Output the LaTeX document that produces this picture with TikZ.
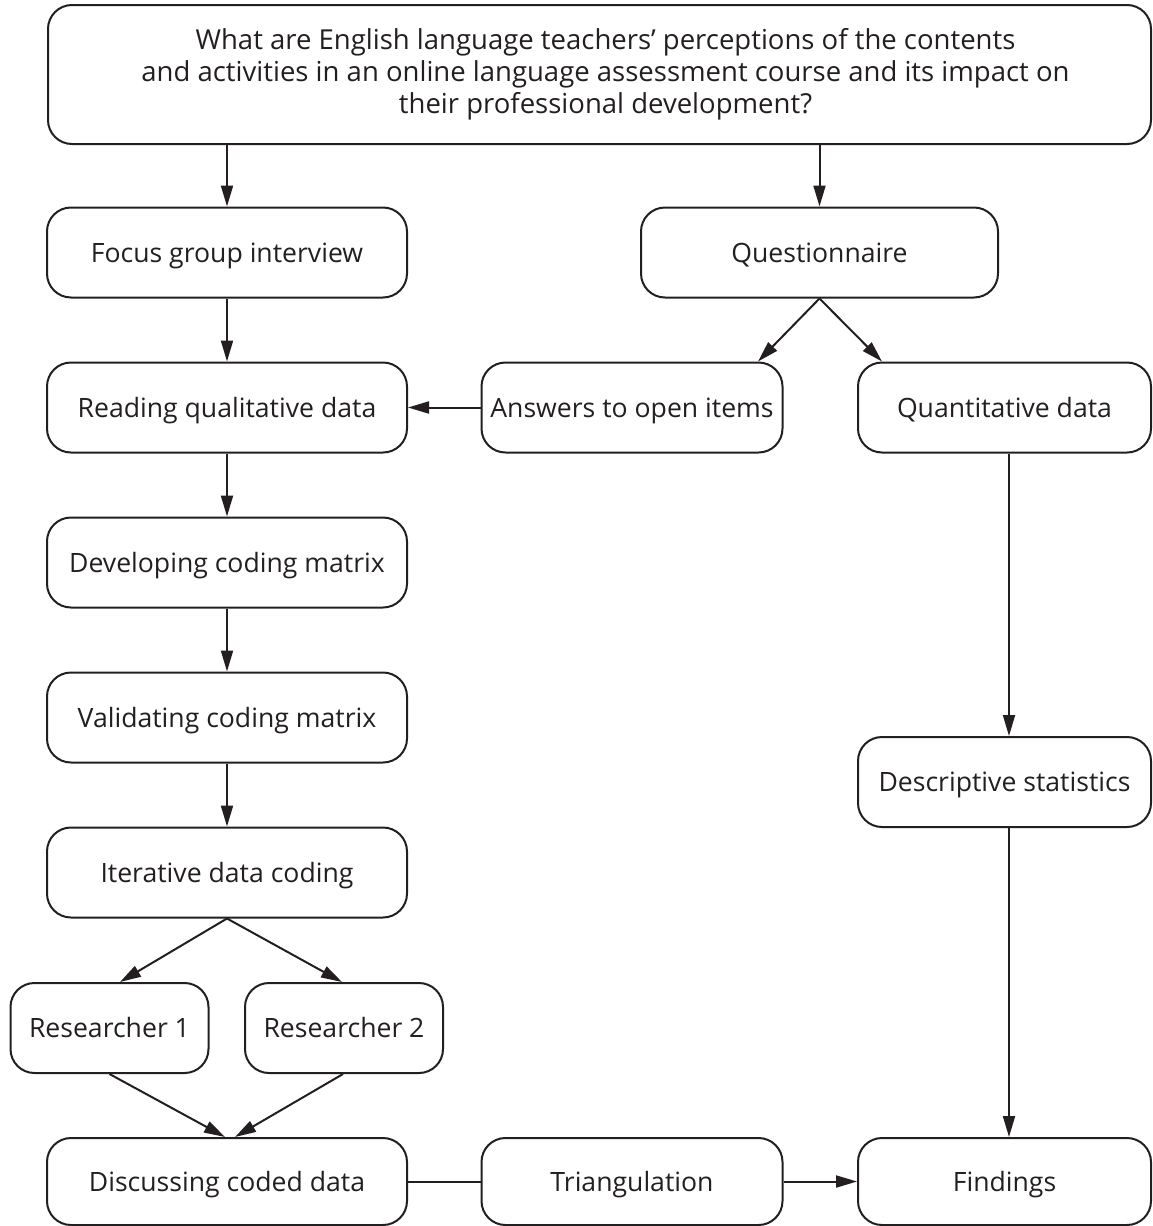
\documentclass[tikz,border=0pt]{standalone}
\usepackage{fontspec}
\setmainfont{Open Sans}
\usetikzlibrary{arrows.meta}
\definecolor{ink}{HTML}{231F20}
\begin{document}
\begin{tikzpicture}[x={(1pt,0)},y={(0,-1pt)},
  basebox/.style={draw=ink,line width=2pt,rounded corners=24pt,inner sep=0pt,
    minimum height=90pt,align=center,text=ink},
  box/.style={basebox,font=\fontsize{26.6}{32}\selectfont,text height=19pt,text depth=0pt},
  conn/.style={line width=2pt,draw=ink},
  arr/.style={conn,-{Triangle[length=21pt,width=12pt]}}]
\useasboundingbox (0,0) rectangle (1153,1226);
\node[basebox,font=\fontsize{27.5}{32}\selectfont,minimum width=1103pt,minimum height=139pt] (q) at (599.5,74.5)
 {\hspace*{12pt}What are English language teachers’ perceptions of the contents\\
  \hspace*{12pt}and activities in an online language assessment course and its impact on\\
  \hspace*{12pt}their professional development?};
\node[box,minimum width=360pt] (focus) at (227,252.5) {Focus group interview};
\node[box,minimum width=357pt] (quest) at (819.5,252.5) {Questionnaire};
\node[box,minimum width=360pt] (read) at (227,407.5) {Reading qualitative data};
\node[box,minimum width=301pt] (ans) at (632,407.5) {Answers to open items};
\node[box,minimum width=293pt] (quant) at (1004.5,407.5) {Quantitative data};
\node[box,minimum width=360pt] (dev) at (227,562.5) {Developing coding matrix};
\node[box,minimum width=360pt] (val) at (227,717.5) {Validating coding matrix};
\node[box,minimum width=293pt] (desc) at (1004.5,782) {Descriptive statistics};
\node[box,minimum width=360pt] (iter) at (227,872.5) {Iterative data coding};
\node[box,minimum width=198pt] (r1) at (109.5,1028) {Researcher 1};
\node[box,minimum width=198pt] (r2) at (344,1028) {Researcher 2};
\node[box,minimum width=360pt,minimum height=87pt] (disc) at (227,1181.5) {Discussing coded data};
\node[box,minimum width=301pt,minimum height=87pt] (tri) at (632,1181.5) {Triangulation};
\node[box,minimum width=293pt,minimum height=87pt] (find) at (1004.5,1181.5) {Findings};
\draw[arr] (q.south -| focus.north) -- (focus.north);
\draw[arr] (q.south -| quest.north) -- (quest.north);
\draw[arr] (quest.south) -- ([xshift=126pt]ans.north);
\draw[arr] (quest.south) -- ([xshift=-122.5pt]quant.north);
\draw[arr] (ans.west) -- (read.east);
\draw[arr] (focus) -- (read);
\draw[arr] (read) -- (dev);
\draw[arr] (dev) -- (val);
\draw[arr] (val) -- (iter);
\draw[arr] (iter.south) -- ([xshift=10.5pt]r1.north);
\draw[arr] (iter.south) -- ([xshift=-2pt]r2.north);
\draw[arr] (r1.south) -- ([xshift=-2pt]disc.north);
\draw[arr] ([xshift=-1pt]r2.south) -- ([xshift=8pt]disc.north);
\draw[conn] (disc.east) -- (tri.west);
\draw[arr] (tri.east) -- (find.west);
\draw[arr] ([xshift=4.5pt]quant.south) -- ([xshift=4.5pt]desc.north);
\draw[arr] ([xshift=4.5pt]desc.south) -- ([xshift=4.5pt]find.north);
\end{tikzpicture}
\end{document}
